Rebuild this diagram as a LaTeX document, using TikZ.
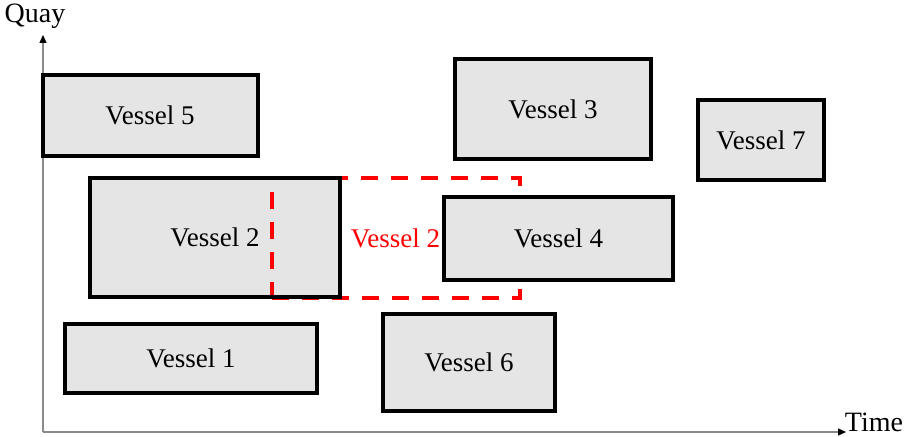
\documentclass[tikz,border=0pt]{standalone}
\usepackage{fontspec}
\setmainfont{Liberation Serif}
\usetikzlibrary{arrows.meta}
\definecolor{boxgray}{HTML}{E5E5E5}
\definecolor{axisgray}{HTML}{8A8A8A}
\tikzset{
  vbox/.style={draw=black, fill=boxgray, line width=4pt, inner sep=0pt, outer sep=0pt,
    font=\fontsize{27}{30}\selectfont},
  axis/.style={draw=axisgray, line width=1.3pt, -{Triangle[length=8pt,width=7pt,fill=black,color=black]}},
  axlabel/.style={font=\fontsize{28}{32}\selectfont, inner sep=0pt},
  reddash/.style={draw=red, line width=4pt, dash pattern=on 17pt off 13pt},
}
\begin{document}
\begin{tikzpicture}[x=1pt,y=-1pt]
\useasboundingbox (0,0) rectangle (909,436);
% axes
\coordinate (origin) at (43,432);
\coordinate (ytip) at (43,35);
\coordinate (xtip) at (846,432);
\draw[axis] (origin) -- (ytip);
\draw[axis] (origin) -- (xtip);
\node[axlabel] (quay) at (35,16) {Quay};
\node[axlabel] (time) at (874,422) {Time};
% vessels
\node[vbox, minimum width=215pt, minimum height=81pt] (v5) at (150,115) {Vessel 5};
\node[vbox, minimum width=196pt, minimum height=100pt] (v3) at (553,109) {Vessel 3};
\node[vbox, minimum width=126pt, minimum height=80pt] (v7) at (761,140) {Vessel 7};
\node[vbox, minimum width=252pt, minimum height=69pt] (v1) at (191,358.5) {Vessel 1};
\node[vbox, minimum width=172pt, minimum height=97pt] (v6) at (469,362.5) {Vessel 6};
\node[vbox, minimum width=250pt, minimum height=119pt] (v2) at (215,237.5) {Vessel 2};
% shifted Vessel 2 (dashed)
\node[reddash, minimum width=248pt, minimum height=120pt, inner sep=0pt, outer sep=0pt] (v2s) at (396,237.5) {};
\node[text=red, font=\fontsize{27}{30}\selectfont, inner sep=0pt] (v2slabel) at (395.5,238) {Vessel 2};
\draw[line width=4pt] (v2.north west) rectangle (v2.south east);
\node[vbox, minimum width=229pt, minimum height=83pt] (v4) at (558.5,238.5) {Vessel 4};
\end{tikzpicture}
\end{document}
